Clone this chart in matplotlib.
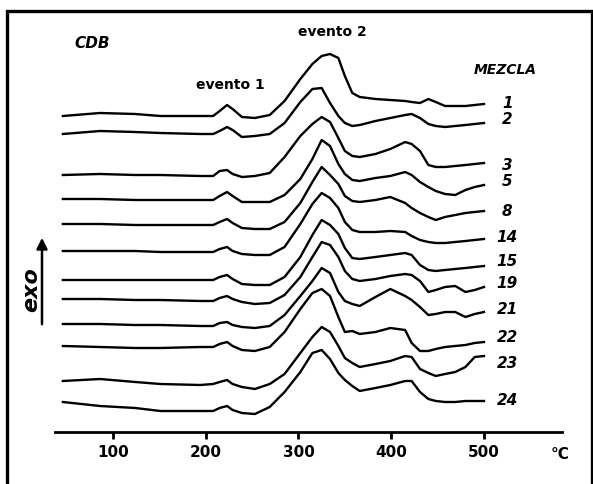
import matplotlib.pyplot as plt
from matplotlib.patches import Rectangle

# Data (signal in arbitrary units)
temps = [46, 86, 124, 151, 194, 208, 215, 223, 229, 239, 253, 269, 285, 302, 315, 325,
         334, 343, 350, 358, 366, 383, 399, 415, 422, 431, 440, 448, 458, 469, 480, 490, 500]

mezcla_1 = [316, 319, 318, 316, 316, 316, 321, 327, 323, 315, 314, 317, 331, 353, 368, 376,
            378, 374, 356, 339, 335, 333, 332, 331, 330, 329, 333, 330, 326, 326, 326, 327, 328]
mezcla_2 = [298, 301, 300, 299, 298, 298, 301, 305, 302, 295, 296, 298, 309, 330, 343, 344,
            329, 316, 309, 306, 307, 311, 314, 317, 318, 314, 308, 306, 305, 306, 307, 308, 309]
mezcla_3 = [257, 258, 257, 257, 256, 256, 261, 262, 258, 255, 256, 259, 275, 296, 308, 315,
            310, 294, 281, 276, 275, 278, 283, 290, 288, 281, 267, 265, 265, 266, 267, 268, 269]
mezcla_5 = [233, 233, 232, 232, 232, 232, 236, 240, 236, 230, 230, 230, 237, 253, 273, 292,
            286, 268, 258, 252, 251, 254, 256, 260, 257, 250, 245, 241, 238, 237, 242, 245, 247]
mezcla_8 = [208, 208, 207, 207, 207, 207, 210, 213, 209, 204, 203, 203, 210, 229, 250, 265,
            257, 248, 236, 231, 230, 232, 235, 229, 224, 219, 215, 212, 215, 217, 219, 220, 221]
mezcla_14 = [181, 181, 181, 180, 180, 180, 183, 185, 181, 178, 177, 177, 185, 208, 228, 239,
             234, 224, 210, 202, 200, 200, 201, 200, 196, 192, 190, 189, 189, 190, 191, 192, 193]
mezcla_15 = [152, 152, 152, 152, 152, 152, 155, 157, 153, 148, 147, 147, 155, 175, 197, 212,
             207, 198, 184, 174, 173, 175, 177, 179, 177, 167, 162, 161, 162, 163, 164, 165, 166]
mezcla_19 = [133, 133, 132, 132, 131, 131, 134, 136, 133, 130, 128, 129, 137, 155, 175, 190,
             187, 175, 161, 153, 151, 153, 156, 158, 157, 151, 140, 142, 145, 146, 140, 142, 145]
mezcla_21 = [108, 108, 107, 107, 106, 106, 109, 110, 107, 105, 104, 106, 117, 136, 151, 164,
             159, 140, 131, 128, 126, 135, 143, 136, 132, 125, 117, 118, 120, 120, 115, 118, 120]
mezcla_22 = [86, 85, 84, 84, 85, 85, 88, 90, 86, 82, 81, 85, 100, 123, 139, 143,
             136, 115, 100, 101, 98, 100, 104, 102, 89, 81, 81, 83, 85, 86, 87, 89, 90]
mezcla_23 = [51, 53, 50, 48, 47, 48, 50, 52, 48, 45, 43, 48, 58, 79, 95, 105,
             100, 86, 74, 69, 65, 68, 71, 76, 75, 63, 59, 56, 58, 60, 65, 75, 76]
mezcla_24 = [30, 26, 24, 21, 21, 21, 24, 26, 22, 19, 18, 25, 40, 60, 79, 82,
             73, 59, 52, 46, 41, 44, 47, 51, 51, 40, 33, 31, 30, 30, 31, 31, 31]

labels = ["1", "2", "3", "5", "8", "14", "15", "19", "21", "22", "23", "24"]
curves = [mezcla_1, mezcla_2, mezcla_3, mezcla_5, mezcla_8, mezcla_14,
          mezcla_15, mezcla_19, mezcla_21, mezcla_22, mezcla_23, mezcla_24]
label_nudge = [1, 4, -2, 4, 1, 3, 6, 5, 3, 6, -6, 1]

W, H = 593, 485


def fpos(px, py):
    # image pixel -> figure fraction
    return px / W, 1 - py / H


fig = plt.figure(figsize=(W / 100, H / 100), dpi=100)
ax = fig.add_axes([55 / W, 52 / H, 507 / W, 413 / H])

for vals, lab, dy in zip(curves, labels, label_nudge):
    ax.plot(temps, vals, color="black", lw=1.7, solid_joinstyle="round")
    ax.text(525, vals[-1] + dy, lab, ha="center", va="center",
            fontsize=11, fontweight="bold", fontstyle="italic")

ax.set_xlim(37.5, 584.1)
ax.set_ylim(0, 413)
for s in ["top", "left", "right"]:
    ax.spines[s].set_visible(False)
ax.spines["bottom"].set_linewidth(2)
ax.set_yticks([])
ax.set_xticks([100, 200, 300, 400, 500])
ax.tick_params(axis="x", direction="out", length=5, width=2, labelsize=11, pad=4)
for t in ax.get_xticklabels():
    t.set_fontweight("bold")

# Texts
fig.text(*fpos(560, 455), "°C", ha="center", va="center", fontsize=11, fontweight="bold")
fig.text(*fpos(92, 43), "CDB", ha="center", va="center", fontsize=11,
         fontweight="bold", fontstyle="italic")
fig.text(*fpos(505, 70), "MEZCLA", ha="center", va="center", fontsize=10,
         fontweight="bold", fontstyle="italic")
fig.text(*fpos(230, 85), "evento 1", ha="center", va="center", fontsize=10, fontweight="bold")
fig.text(*fpos(332, 32), "evento 2", ha="center", va="center", fontsize=10, fontweight="bold")
fig.text(*fpos(31, 290), "exo", ha="center", va="center", fontsize=16, rotation=90,
         fontweight="bold", fontstyle="italic")

# exo arrow
ax.annotate("", xy=fpos(42, 236), xytext=fpos(42, 328), xycoords="figure fraction",
            textcoords="figure fraction",
            arrowprops=dict(arrowstyle="-|>", lw=1.8, color="black", mutation_scale=16))

# scanned frame
fig.add_artist(Rectangle(fpos(7, 500), (592 - 7) / W, (500 - 12) / H,
                         transform=fig.transFigure, fill=False, lw=2.4,
                         edgecolor="black", clip_on=False))

fig.savefig("out.png", dpi=100)
